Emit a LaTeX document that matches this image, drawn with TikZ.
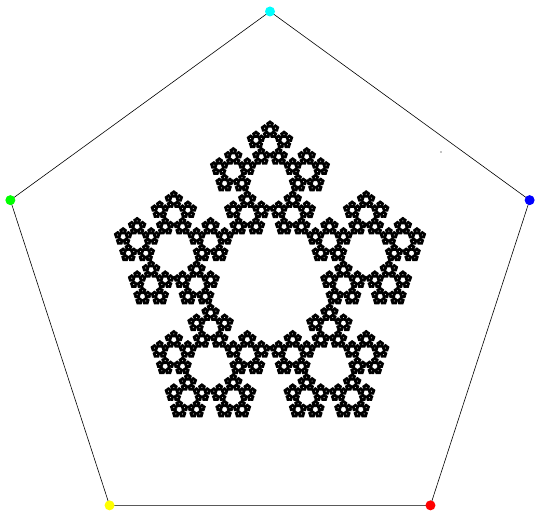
\documentclass[tikz,border=0pt]{standalone}
\usetikzlibrary{calc}
\definecolor{vcyan}{RGB}{0,255,255}
\definecolor{vgreen}{RGB}{0,255,0}
\definecolor{vyellow}{RGB}{255,255,0}
\definecolor{vred}{RGB}{255,0,0}
\definecolor{vblue}{RGB}{0,0,255}
\tikzset{
  vdot/.style={circle,inner sep=0pt,minimum size=10pt,draw=none},
  edge/.style={draw=black,line width=0.6pt},
}
\newcommand{\leafpent}{\fill[black] (90:2.0) -- (162:2.0) -- (234:2.0) -- (306:2.0) -- (18:2.0) -- cycle;}
\begin{document}
\begin{tikzpicture}[x=1pt,y=1pt]
\useasboundingbox (0,0) rectangle (535,511);
\coordinate (C) at (270,226.5);
\coordinate (v0) at ($(C)+(90:273)$);
\coordinate (v1) at ($(C)+(162:273)$);
\coordinate (v2) at ($(C)+(234:273)$);
\coordinate (v3) at ($(C)+(306:273)$);
\coordinate (v4) at ($(C)+(18:273)$);
\draw[edge] (v0) -- (v1) -- (v2) -- (v3) -- (v4) -- cycle;
% fractal
\begin{scope}[shift={(C)}]
\foreach \a in {0,...,4}{
 \begin{scope}[shift={(90+72*\a:101.1)}]
 \foreach \b in {0,...,4}{
  \begin{scope}[shift={(90+72*\b:38.62)}]
  \foreach \c in {0,...,4}{
   \begin{scope}[shift={(90+72*\c:14.75)}]
   \foreach \d in {0,...,4}{
    \begin{scope}[shift={(90+72*\d:5.635)}]
    \foreach \e in {0,...,4}{
     \begin{scope}[shift={(90+72*\e:2.152)}]
      \leafpent
     \end{scope}
    }
    \end{scope}
   }
   \end{scope}
  }
  \end{scope}
 }
 \end{scope}
}
\end{scope}
\coordinate (stray) at (441,359);
\fill[black] (stray) circle (0.7);
\node[vdot,fill=vcyan] (n0) at (v0) {};
\node[vdot,fill=vgreen] (n1) at (v1) {};
\node[vdot,fill=vyellow] (n2) at (v2) {};
\node[vdot,fill=vred] (n3) at (v3) {};
\node[vdot,fill=vblue] (n4) at (v4) {};
\end{tikzpicture}
\end{document}
